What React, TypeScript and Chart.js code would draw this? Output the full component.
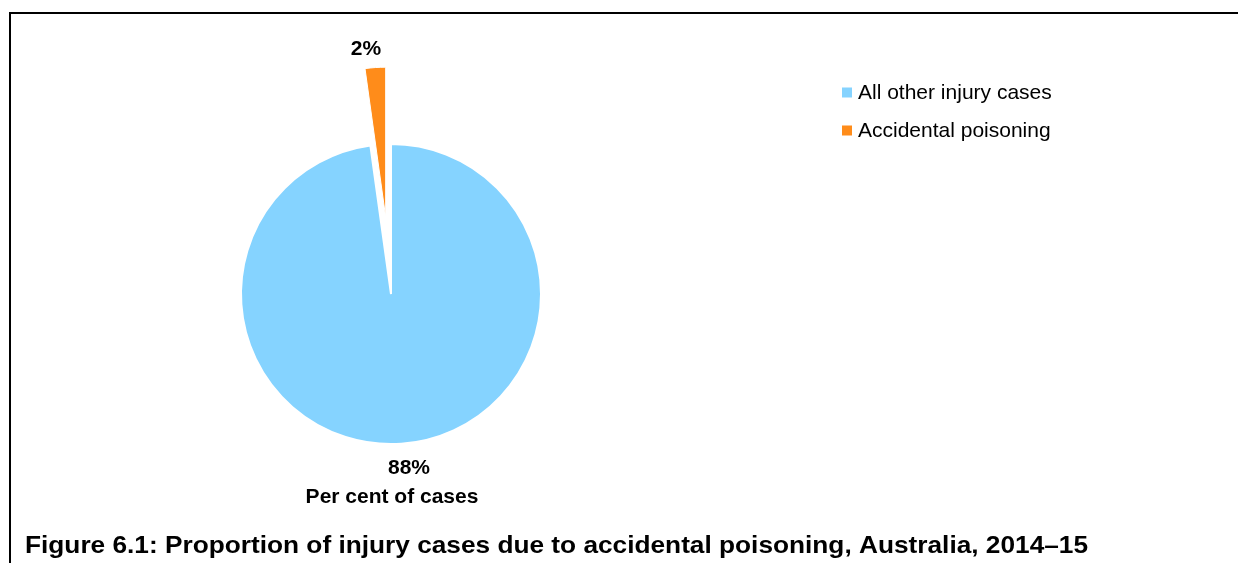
import React, { useEffect, useRef } from "react";
import { Chart, registerables } from "chart.js";

Chart.register(...registerables);

const categories = ["All other injury cases", "Accidental poisoning"];
const values = [97.8, 2.2];
const valueLabels = ["88%", "2%"];
const colors = ["#85D3FF", "#FF8C1A"];
const explode = [0, 77];
const axisTitle = "Per cent of cases";
const figureTitle = "Figure 6.1: Proportion of injury cases due to accidental poisoning, Australia, 2014\u201315";

const FONT = "'Liberation Sans', Arial, sans-serif";

const explodePlugin = {
  id: "explode",
  afterDatasetUpdate(chart: any, args: any) {
    const meta = chart.getDatasetMeta(args.index);
    meta.data.forEach((arc: any, i: number) => {
      const off = explode[i] || 0;
      if (!off) return;
      const mid = (arc.startAngle + arc.endAngle) / 2;
      arc.x += Math.cos(mid) * off;
      arc.y += Math.sin(mid) * off;
    });
  },
};

const decorPlugin = {
  id: "decor",
  afterDraw(chart: any) {
    const ctx = chart.ctx as CanvasRenderingContext2D;
    ctx.save();
    // frame
    ctx.fillStyle = "#000";
    ctx.fillRect(9, 12, 1229, 2);
    ctx.fillRect(9, 12, 2, 551);

    // data labels
    const meta = chart.getDatasetMeta(0);
    const base = meta.data[0];
    const cx = base.x;
    const cy = base.y;
    const R = base.outerRadius;
    ctx.fillStyle = "#000";
    ctx.font = `bold 21px ${FONT}`;
    ctx.textAlign = "center";
    ctx.textBaseline = "alphabetic";
    ctx.fillText(valueLabels[0], cx + 18, cy + R + 30);
    ctx.fillText(axisTitle, cx + 1, cy + R + 59);
    const o = meta.data[1];
    const mid = (o.startAngle + o.endAngle) / 2;
    const lx = o.x + Math.cos(mid) * (o.outerRadius + 20) - 8;
    const ly = o.y + Math.sin(mid) * (o.outerRadius + 20) + 7;
    ctx.fillText(valueLabels[1], lx, ly);

    // legend
    ctx.textAlign = "left";
    ctx.font = `21px ${FONT}`;
    categories.forEach((c, i) => {
      const y = 99 + i * 38;
      ctx.fillStyle = colors[i];
      ctx.fillRect(842, y - 11.5, 10, 10);
      ctx.fillStyle = "#000";
      ctx.fillText(c, 858, y);
    });

    // figure title (slightly stretched as in the source)
    ctx.font = `bold 24px ${FONT}`;
    const w = ctx.measureText(figureTitle).width;
    const sx = 1063 / w;
    ctx.translate(25, 553);
    ctx.scale(sx, 1);
    ctx.fillText(figureTitle, 0, 0);
    ctx.restore();
  },
};

export default function App() {
  const ref = useRef<HTMLCanvasElement | null>(null);
  useEffect(() => {
    document.body.style.margin = "0";
    const chart = new Chart(ref.current as HTMLCanvasElement, {
      type: "pie",
      data: {
        labels: categories,
        datasets: [
          {
            data: values,
            backgroundColor: colors,
            borderColor: "#ffffff",
            borderWidth: [2, 1],
          },
        ],
      },
      options: {
        animation: false,
        responsive: false,
        radius: 150,
        layout: { padding: { left: 100, right: 556, top: 60, bottom: 35 } },
        plugins: {
          legend: { display: false },
          tooltip: { enabled: false },
          title: { display: false },
        },
      },
      plugins: [explodePlugin, decorPlugin],
    });
    return () => chart.destroy();
  }, []);
  return (
    <div style={{ position: "relative", width: 1238, height: 563, background: "#fff" }}>
      <canvas ref={ref} width={1238} height={563} style={{ display: "block" }} />
    </div>
  );
}
